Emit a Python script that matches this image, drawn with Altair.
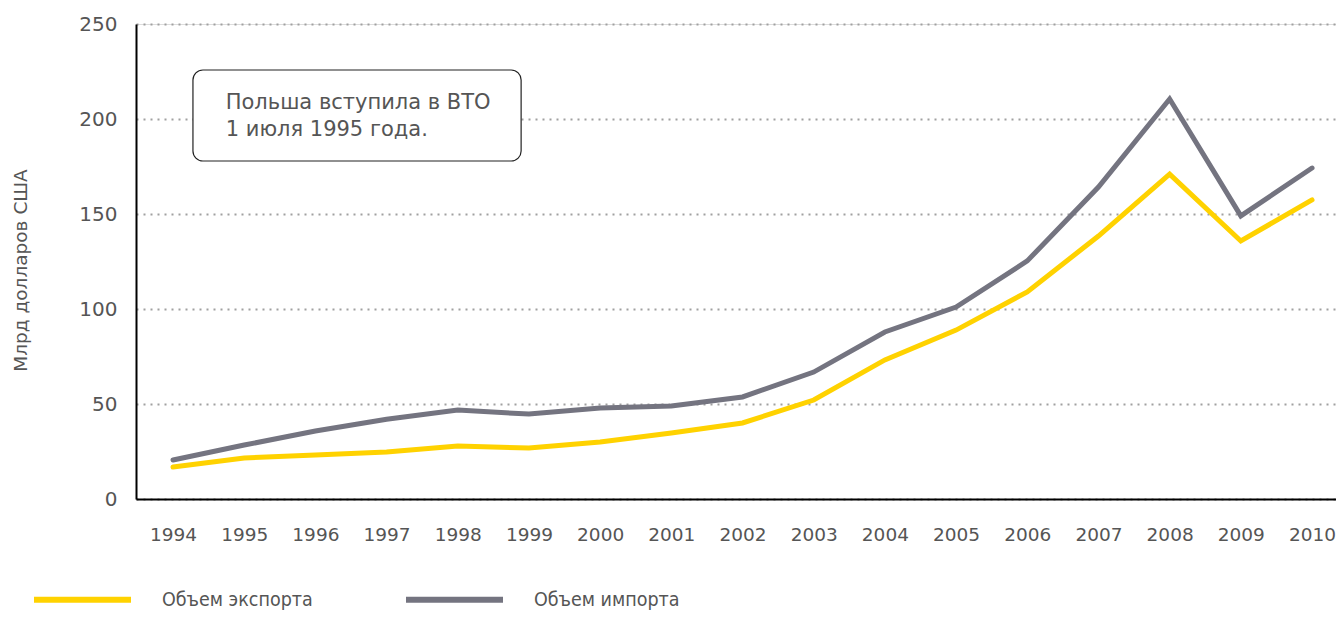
import altair as alt
import pandas as pd

years = list(range(1994, 2011))
export_vals = [16.8, 21.6, 23.2, 24.7, 27.9, 26.8, 30.0, 34.7, 40.0, 52.1, 73.2, 88.9, 109.0, 138.4, 171.0, 135.8, 157.4]
import_vals = [20.5, 28.4, 35.8, 42.0, 46.8, 44.7, 47.9, 48.9, 53.7, 66.8, 87.9, 101.0, 125.3, 164.2, 210.5, 149.0, 174.2]
series_names = ["Объем экспорта", "Объем импорта"]
series_colors = ["#FFD200", "#747480"]
y_ticks = [0, 50, 100, 150, 200, 250]
y_title = "Млрд долларов США"
note_lines = ["Польша вступила в ВТО", "1 июля 1995 года."]
note_box = {"x": [1994.28], "x2": [1998.89], "y": [225.8], "y2": [177.9]}
note_pos = {"x": [1994.74], "y": [208.4]}

FONT = "DejaVu Sans"
LEGEND_FONT = "DejaVu Sans Condensed, DejaVu Sans"

rows = []
for yr, e, i in zip(years, export_vals, import_vals):
    rows.append({"year": yr, "value": e, "series": series_names[0]})
    rows.append({"year": yr, "value": i, "series": series_names[1]})
df = pd.DataFrame(rows)

xscale = alt.Scale(domain=[1993.48, 2010.337], nice=False, zero=False)
yscale = alt.Scale(domain=[0, 250], nice=False)

lines = alt.Chart(df).mark_line(strokeWidth=5, strokeCap="round", strokeJoin="miter").encode(
    x=alt.X("year:Q", scale=xscale,
            axis=alt.Axis(values=years, format="d", title=None, grid=False,
                          tickSize=0, labelPadding=26, labelFontSize=18.5, labelFont=FONT,
                          labelColor="#555555", domainColor="#000000", domainWidth=2,
                          labelFlush=False, labelOverlap=False)),
    y=alt.Y("value:Q", scale=yscale,
            axis=alt.Axis(values=y_ticks, title=y_title, grid=True,
                          gridDash=[2, 5], gridWidth=2, gridColor="#a0a0a0",
                          tickSize=0, labelPadding=19, labelFontSize=20, labelFont=FONT,
                          labelColor="#555555", domainColor="#000000", domainWidth=2,
                          titleFont=FONT, titleFontSize=18.5, titleFontWeight="normal",
                          titleColor="#555555", titleAngle=270, titleX=-116, titleY=246,
                          titleAlign="center", titleBaseline="middle")),
    color=alt.Color("series:N", sort=series_names,
                    scale=alt.Scale(domain=series_names, range=series_colors),
                    legend=alt.Legend(title=None, orient="none", direction="horizontal",
                                      legendX=-105, legendY=524,
                                      symbolType="stroke", symbolSize=9409, symbolStrokeWidth=6,
                                      labelFont=LEGEND_FONT, labelFontSize=19.5, labelColor="#555555",
                                      labelOffset=28, columnPadding=81)),
    order=alt.Order("series:N"),
)

box = alt.Chart(pd.DataFrame(note_box)).mark_rect(
    fill="white", stroke="#222222", strokeWidth=1.2, cornerRadius=10
).encode(x="x:Q", x2="x2:Q", y="y:Q", y2="y2:Q")

note = alt.Chart(pd.DataFrame(note_pos)).mark_text(
    text=note_lines, align="left", baseline="middle", font=FONT, fontSize=21,
    color="#555555", lineHeight=27
).encode(x="x:Q", y="y:Q")

chart = alt.layer(box, note, lines).properties(
    width=1200, height=475,
    autosize=alt.AutoSizeParams(type="none"),
    padding={"left": 128, "top": 16, "right": 0, "bottom": 112},
).configure_view(stroke=None).configure(background="white")

chart.save("out.html", embed_options={"renderer": "svg", "actions": False})
